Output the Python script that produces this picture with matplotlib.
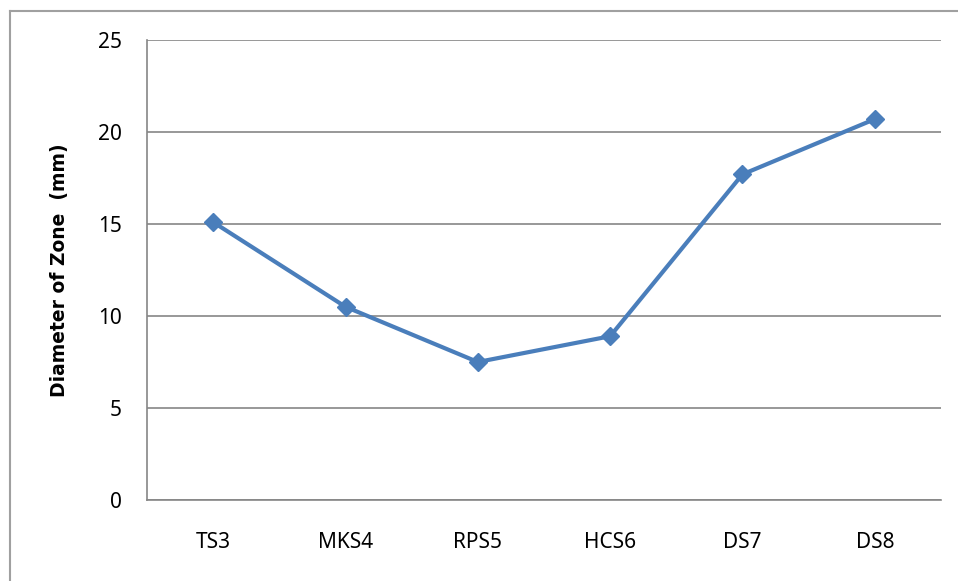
import matplotlib
matplotlib.use("Agg")
import matplotlib.pyplot as plt
from matplotlib.lines import Line2D

categories = ["TS3", "MKS4", "RPS5", "HCS6", "DS7", "DS8"]
values = [15.1, 10.5, 7.5, 8.9, 17.7, 20.7]
yticks = [0, 5, 10, 15, 20, 25]

plt.rcParams['font.family'] = ['Noto Sans', 'DejaVu Sans']

fig = plt.figure(figsize=(9.58, 5.81), dpi=100)
# outer chart border (left and top visible)
fig.add_artist(Line2D([10/958, 10/958], [0, 1 - 11/581], transform=fig.transFigure, color="#a0a0a0", lw=1.5))
fig.add_artist(Line2D([10/958, 1], [1 - 11/581, 1 - 11/581], transform=fig.transFigure, color="#a0a0a0", lw=1.5))

ax = fig.add_axes([147/958, 1 - 500/581, 794/958, 460/581])
x = list(range(len(categories)))
ax.plot(x, values, color="#4a7ebb", lw=3, marker="D", markersize=9, zorder=3)
ax.set_xlim(-0.5, len(categories) - 0.5)
ax.set_ylim(0, 25)
ax.set_yticks(yticks)
ax.set_yticklabels([str(t) for t in yticks])
ax.set_xticks(x)
ax.set_xticklabels(categories)
ax.yaxis.grid(True, color="#868686", lw=1.2)
ax.set_axisbelow(True)
for s in ["top", "right"]:
    ax.spines[s].set_visible(False)
for s in ["left", "bottom"]:
    ax.spines[s].set_color("#868686")
    ax.spines[s].set_linewidth(1.2)
ax.tick_params(axis="both", length=0, labelsize=15, colors="#000000")
ax.tick_params(axis="y", pad=18)
ax.tick_params(axis="x", pad=23)
fig.text(60/958, 1 - 270/581, "Diameter of Zone  (mm)", rotation=90, ha="center", va="center",
         fontsize=13.5, fontweight="bold", family="DejaVu Sans")
fig.savefig("out.png", dpi=100)
